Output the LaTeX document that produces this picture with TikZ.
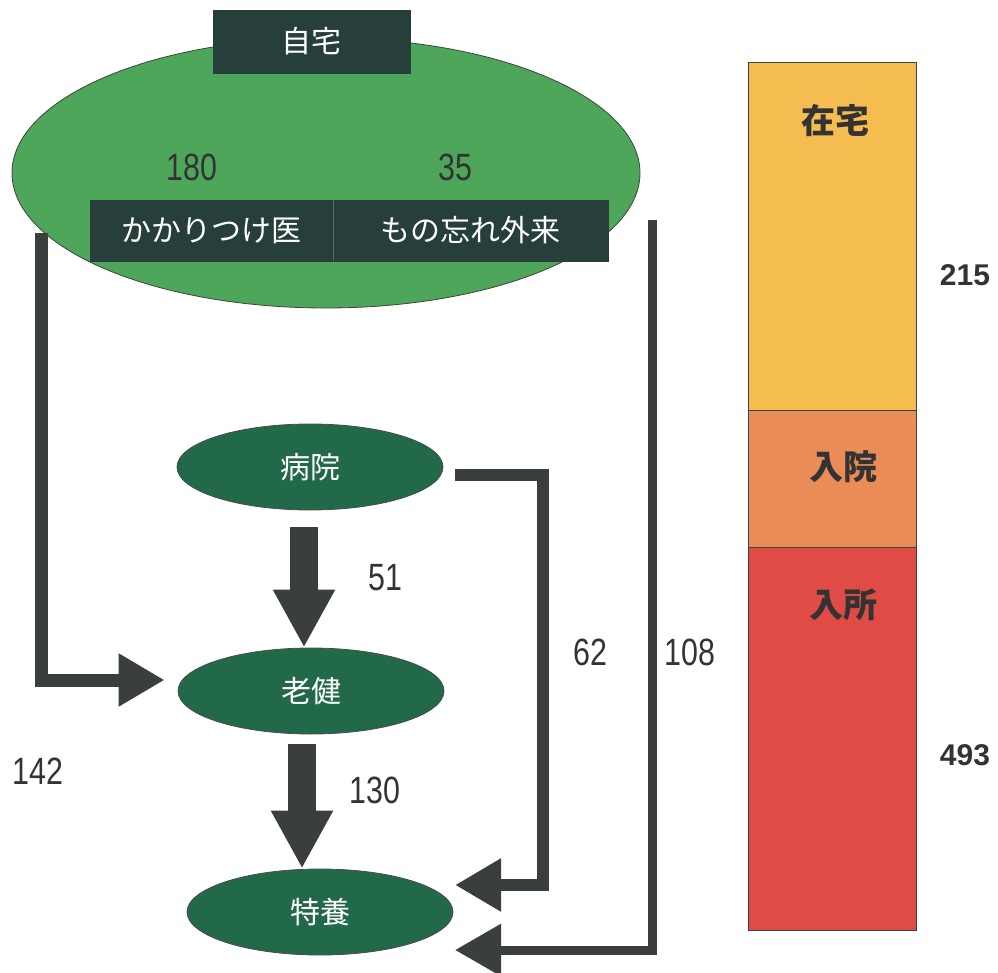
\documentclass[tikz,border=0pt]{standalone}
\usepackage{fontspec}
\setmainfont{Noto Sans CJK JP}
\newfontfamily\numfont{Liberation Sans}
\usetikzlibrary{shapes.geometric,arrows.meta}
\definecolor{boxc}{HTML}{263F3A}
\definecolor{bigg}{HTML}{4EA65A}
\definecolor{smallg}{HTML}{22694A}
\definecolor{arrc}{HTML}{3A3F3C}
\definecolor{numc}{HTML}{333333}
\definecolor{zaitaku}{HTML}{F5BD50}
\definecolor{nyuin}{HTML}{EA8C58}
\definecolor{nyusho}{HTML}{E04B46}
\tikzset{
  darkbox/.style={draw=boxc,fill=boxc,text=white,inner sep=0pt,font=\fontsize{30}{33}\selectfont},
  smallell/.style={ellipse,draw=black!70,line width=0.8pt,fill=smallg,text=white,minimum width=266pt,minimum height=86pt,inner sep=0pt,font=\fontsize{30}{33}\selectfont},
  numlab/.style={text=numc,font=\numfont\fontsize{38}{40}\selectfont,xscale=0.8,inner sep=0pt},
  rnum/.style={text=numc,font=\numfont\bfseries\fontsize{30}{33}\selectfont,inner sep=0pt},
  barlab/.style={text=numc,font=\bfseries\fontsize{34}{36}\selectfont,inner sep=0pt},
  bigarrow/.style={draw=arrc,line width=28pt,-{Triangle[length=58pt,width=58pt]}},
  thinarrow/.style={draw=arrc,-{Triangle[length=46pt,width=50pt]}},
  barseg/.style={draw=black!75,line width=0.8pt}
}
\begin{document}
\begin{tikzpicture}[x=1pt,y=-1pt]
\useasboundingbox (0,0) rectangle (998,973);
% home ellipse
\node[ellipse,draw=black!75,line width=0.8pt,fill=bigg,minimum width=628pt,minimum height=270pt,inner sep=0pt] (home) at (326,173) {};
\node[darkbox,minimum width=197pt,minimum height=63pt] (jitaku) at (311.5,41.5) {自宅};
\node[darkbox,minimum width=243pt,minimum height=61pt] (kakari) at (211.5,230.5) {かかりつけ医};
\node[darkbox,minimum width=275pt,minimum height=61pt] (monowasure) at (470.5,230.5) {もの忘れ外来};
\draw[black!60,line width=0.6pt] (kakari.north east) -- (kakari.south east);
\node[numlab] (n180) at (192,167) {180};
\node[numlab] (n35) at (455,167) {35};
% facility ellipses
\node[smallell] (byouin) at (310,467) {病院};
\node[smallell] (rouken) at (311,691) {老健};
\node[smallell] (tokuyou) at (320,912) {特養};
% vertical arrows
\draw[bigarrow] ([xshift=-6pt,yshift=-17pt]byouin.south) -- (rouken.north -| 304,0);
\draw[bigarrow] ([xshift=-9pt,yshift=-10pt]rouken.south) -- (tokuyou.north -| 302,0);
\node[numlab] (n51) at (385,578) {51};
\node[numlab] (n130) at (375,790) {130};
% 142 connector
\coordinate (s142) at (41,233);
\draw[thinarrow,line width=13pt] (s142) |- ([xshift=-13pt,yshift=11pt]rouken.west);
\node[numlab] (n142) at (38,771) {142};
% 62 connector
\coordinate (s62) at (455,475);
\coordinate (c62) at (543,475);
\coordinate (t62) at (455,885);
\draw[thinarrow,line width=12pt] (s62) -- (c62) |- (t62);
\node[numlab] (n62) at (590,652) {62};
% 108 connector
\coordinate (s108) at (652,220);
\coordinate (t108) at (455,950);
\draw[thinarrow,line width=9pt] (s108) |- (t108);
\node[numlab] (n108) at (690,652) {108};
% stacked bar
\fill[zaitaku] (748,62) rectangle (916,410);
\fill[nyuin] (748,410) rectangle (916,547);
\fill[nyusho] (748,547) rectangle (916,930);
\draw[barseg] (748,62) rectangle (916,930);
\draw[barseg] (748,410) -- (916,410);
\draw[barseg] (748,547) -- (916,547);
\node[barlab] (lz) at (835,121) {在宅};
\node[barlab] (ln) at (843,467) {入院};
\node[barlab] (ls) at (843,605) {入所};
\node[rnum] (n215) at (965,275) {215};
\node[rnum] (n493) at (965,755) {493};
\end{tikzpicture}
\end{document}
